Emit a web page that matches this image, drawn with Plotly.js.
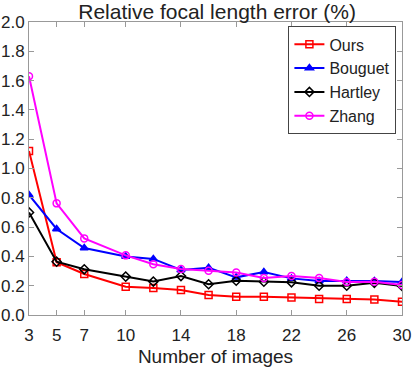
<!DOCTYPE html>
<html>
<head>
<meta charset="utf-8">
<script src="https://cdn.plot.ly/plotly-3.0.1.min.js"></script>
<style>
  html, body { margin: 0; padding: 0; background: #fff; }
  #chart { width: 412px; height: 368px; }
</style>
</head>
<body>
<div id="chart"></div>
<script>
'use strict';

const images   = [3, 5, 7, 10, 12, 14, 16, 18, 20, 22, 24, 26, 28, 30];
const ours     = [1.12, 0.36, 0.28, 0.193, 0.185, 0.17, 0.137, 0.125, 0.125, 0.12, 0.11, 0.109, 0.105, 0.091];
const bouguet  = [0.82, 0.587, 0.457, 0.40, 0.383, 0.307, 0.323, 0.257, 0.293, 0.25, 0.232, 0.234, 0.232, 0.225];
const hartley  = [0.70, 0.364, 0.312, 0.262, 0.228, 0.266, 0.21, 0.234, 0.227, 0.223, 0.2, 0.2, 0.22, 0.198];
const zhang    = [1.63, 0.762, 0.523, 0.407, 0.346, 0.314, 0.302, 0.29, 0.253, 0.266, 0.253, 0.225, 0.227, 0.205];
const xTicks   = [3, 5, 7, 10, 14, 18, 22, 26, 30];
const yTicks   = [0, 0.2, 0.4, 0.6, 0.8, 1.0, 1.2, 1.4, 1.6, 1.8, 2.0];

const mkTrace = (y, name, color, symbol) => ({
  x: images, y: y, name: name,
  mode: 'lines+markers',
  line: { color: color, width: 2 },
  marker: { symbol: symbol, size: 7, color: color, line: { color: color, width: 1.5 } }
});

const traces = [
  mkTrace(ours,    'Ours',    '#ff0000', 'square-open'),
  mkTrace(bouguet, 'Bouguet', '#0000ff', 'triangle-up'),
  mkTrace(hartley, 'Hartley', '#000000', 'diamond-open'),
  mkTrace(zhang,   'Zhang',   '#ff00ff', 'circle-open')
];

const axisCommon = {
  showgrid: false, zeroline: false,
  showline: true, mirror: 'ticks', linecolor: '#999', linewidth: 1,
  ticks: 'inside', ticklen: 5, tickcolor: '#999',
  tickfont: { size: 17, color: '#222' }
};

const layout = {
  width: 412, height: 368,
  paper_bgcolor: '#fff', plot_bgcolor: '#fff',
  font: { family: 'Liberation Sans, Arial, sans-serif', color: '#222' },
  margin: { l: 29, r: 10, t: 22, b: 53 },
  title: {
    text: 'Relative focal length error (%)',
    font: { size: 21, color: '#222' },
    xref: 'container', x: 0.527, xanchor: 'center',
    yref: 'container', y: 0.968, yanchor: 'middle'
  },
  showlegend: true,
  legend: {
    x: 0.985, xanchor: 'right', y: 0.985, yanchor: 'top',
    bgcolor: '#fff', bordercolor: '#444', borderwidth: 1,
    font: { size: 16, color: '#222' },
    tracegroupgap: 0, itemwidth: 30
  },
  xaxis: Object.assign({}, axisCommon, {
    range: [3, 30], tickvals: xTicks, ticklabelstandoff: 5,
    title: { text: 'Number of images', font: { size: 19, color: '#222' }, standoff: 5 }
  }),
  yaxis: Object.assign({}, axisCommon, {
    range: [0, 2.0], tickvals: yTicks,
    tickformat: '.1f'
  })
};

Plotly.newPlot('chart', traces, layout, { displayModeBar: false, staticPlot: true });
</script>
</body>
</html>
